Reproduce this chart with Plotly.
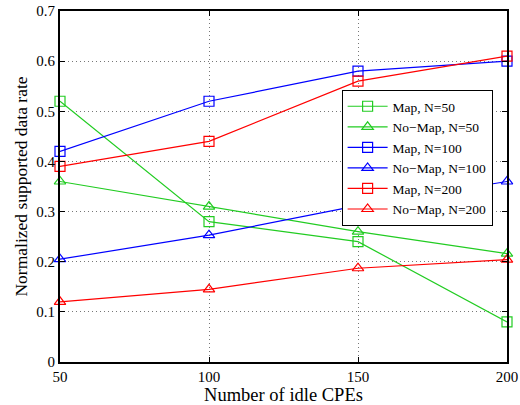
import plotly.graph_objects as go

x_cpes = [50, 100, 150, 200]
map_n50 = [0.52, 0.28, 0.24, 0.08]
nomap_n50 = [0.36, 0.31, 0.26, 0.216]
map_n100 = [0.42, 0.52, 0.58, 0.60]
nomap_n100 = [0.205, 0.253, 0.312, 0.36]
map_n200 = [0.39, 0.44, 0.56, 0.61]
nomap_n200 = [0.12, 0.145, 0.187, 0.204]

GREEN = "#22cc22"
BLUE = "#0000ff"
RED = "#ff0000"

series = [
    ("Map, N=50", map_n50, GREEN, "square-open"),
    ("No\u2212Map, N=50", nomap_n50, GREEN, "triangle-up-open"),
    ("Map, N=100", map_n100, BLUE, "square-open"),
    ("No\u2212Map, N=100", nomap_n100, BLUE, "triangle-up-open"),
    ("Map, N=200", map_n200, RED, "square-open"),
    ("No\u2212Map, N=200", nomap_n200, RED, "triangle-up-open"),
]

fig = go.Figure()
for name, vals, col, sym in series:
    fig.add_trace(go.Scatter(
        x=x_cpes, y=vals, name=name, mode="lines+markers",
        line=dict(color=col, width=1.2),
        marker=dict(symbol=sym, size=10, color=col, line=dict(color=col, width=1.2)),
        cliponaxis=False,
    ))

font_family = "Liberation Serif"
axis_common = dict(
    showline=True, linecolor="black", linewidth=2, mirror="allticks",
    ticks="inside", ticklen=5, tickcolor="black", tickwidth=1,
    showgrid=True, gridcolor="#777777", griddash="1px,3px", gridwidth=1,
    zeroline=False, automargin=False,
    tickfont=dict(family=font_family, size=15, color="black"),
)

fig.update_layout(
    width=520, height=405, autosize=False,
    margin=dict(l=60, r=13, t=11, b=43),
    paper_bgcolor="white", plot_bgcolor="white",
    font=dict(family=font_family, color="black"),
    xaxis=dict(range=[50, 200], tickvals=[50, 100, 150, 200],
               title=dict(text="Number of idle CPEs", font=dict(size=18.5), standoff=2),
               **axis_common),
    yaxis=dict(range=[0, 0.7], tickvals=[0, 0.1, 0.2, 0.3, 0.4, 0.5, 0.6, 0.7],
               ticktext=["0", "0.1", "0.2", "0.3", "0.4", "0.5", "0.6", "0.7"],
               title=dict(text="Normalized supported data rate", font=dict(size=17.5), standoff=4),
               **axis_common),
    legend=dict(x=0.63, y=0.775, xanchor="left", yanchor="top",
                bgcolor="white", bordercolor="black", borderwidth=1,
                font=dict(family=font_family, size=13.5, color="black"),
                tracegroupgap=0, itemwidth=40),
    showlegend=True,
)

fig.write_html("out.html", config={"displayModeBar": False})
with open("out.html", "r", encoding="utf-8") as f:
    html = f.read()
html = html.replace("<head>", "<head><style>html,body{margin:0;padding:0;overflow:hidden;}</style>", 1)
with open("out.html", "w", encoding="utf-8") as f:
    f.write(html)
